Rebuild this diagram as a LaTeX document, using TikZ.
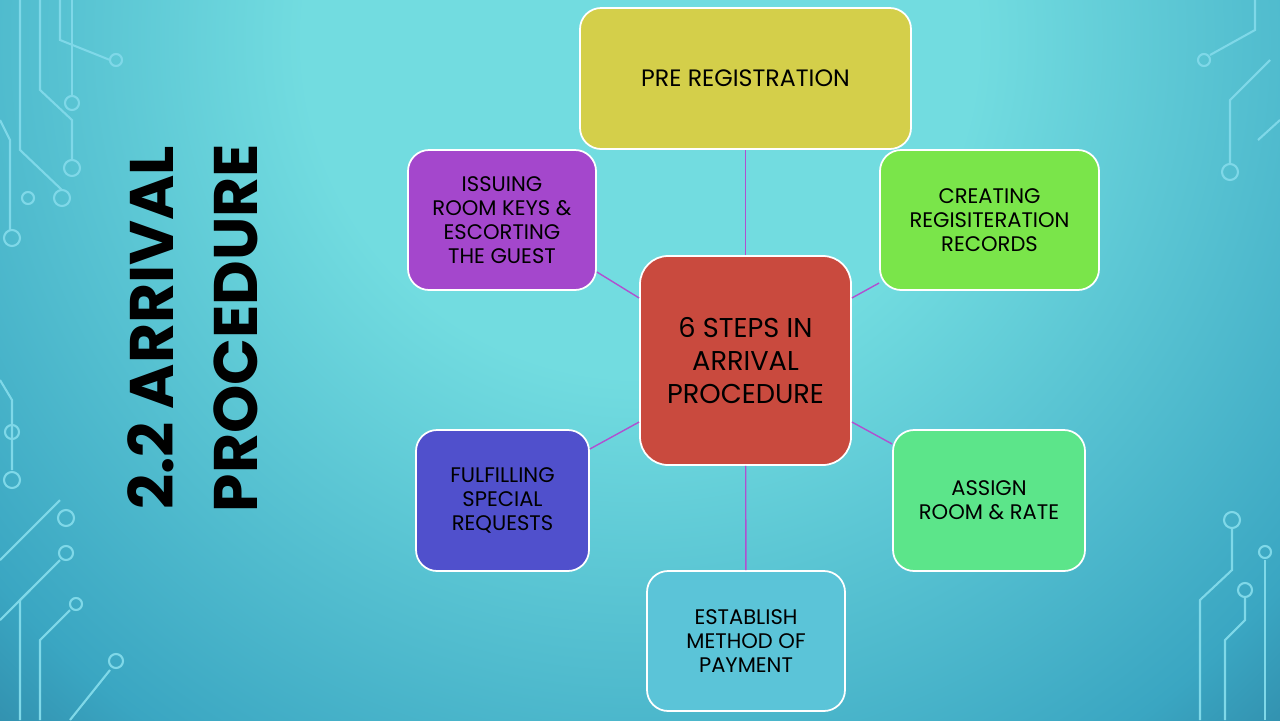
\documentclass[tikz,border=0pt]{standalone}
\usepackage{fontspec}
\setmainfont{Poppins}
\definecolor{bgin}{HTML}{72DCE0}
\definecolor{bgmid}{HTML}{3AA6C2}
\definecolor{bgout}{HTML}{0C2A52}
\pgfdeclareradialshading{bgsh}{\pgfpoint{0bp}{0bp}}{color(0bp)=(bgin); color(8bp)=(bgin); color(20bp)=(bgmid); color(34bp)=(bgout); color(50bp)=(bgout)}
\begin{document}
\begin{tikzpicture}[x=0.02cm,y=-0.02cm]
\definecolor{circ}{HTML}{7FD8E8}
\definecolor{conn}{HTML}{B050D0}
\tikzset{box/.style={draw=white,line width=1pt,rounded corners=12pt,align=center,font=\fontsize{12}{13.6}\selectfont,text=black,inner sep=0pt},
 wire/.style={circ,line width=1.2pt},
 pad/.style={circ,line width=1.2pt}}
\useasboundingbox (0,0) rectangle (1280,720);
\begin{scope}
\clip (-5,-5) rectangle (1285,725);
\fill[bgout] (-10,-10) rectangle (1290,730);
\shade[shading=bgsh] (640,40) circle (1050*0.02cm);
% circuit decorations left
\draw[wire] (40,0) -- (40,90) -- (72,120) -- (72,160);
\draw[pad] (72,168) circle (8);
\draw[wire] (60,0) -- (60,40) -- (110,60);
\draw[pad] (116,60) circle (6);
\draw[wire] (20,0) -- (20,150) -- (62,190);
\draw[pad] (62,198) circle (8);
\draw[wire] (0,120) -- (10,140) -- (10,230);
\draw[pad] (12,238) circle (8);
\draw[wire] (72,0)--(72,95); \draw[pad] (72,103) circle (7);
\draw[pad] (28,198) circle (6);
\draw[wire] (0,380) -- (12,400) -- (12,470); \draw[pad] (12,480) circle (8);
\draw[pad] (12,432) circle (7);
\draw[wire] (0,560) -- (60,500); \draw[pad] (66,518) circle (8);
\draw[wire] (20,720) -- (20,600) -- (60,560); \draw[pad] (66,553) circle (7);
\draw[wire] (40,720) -- (40,640) -- (70,610); \draw[pad] (76,604) circle (6);
\draw[wire] (70,720) -- (110,670); \draw[pad] (116,661) circle (7);
\draw[wire] (0,620) -- (30,590);
% right
\draw[wire] (1255,0) -- (1255,30) -- (1210,55); \draw[pad] (1204,60) circle (6);
\draw[wire] (1270,60) -- (1230,100) -- (1230,164); \draw[pad] (1230,172) circle (8);
\draw[wire] (1280,120) -- (1258,140);
\draw[wire] (1200,720) -- (1200,600) -- (1232,570) -- (1232,528); \draw[pad] (1232,520) circle (8);
\draw[wire] (1225,720) -- (1225,640) -- (1245,620) -- (1245,598); \draw[pad] (1245,590) circle (7);
\draw[wire] (1265,720) -- (1265,560); \draw[pad] (1265,552) circle (6);
\end{scope}
\node[rotate=90,align=center,font=\fontsize{35}{48}\selectfont\bfseries,text=black] (title) at (193,328) {2.2 ARRIVAL\\PROCEDURE};
\node[box,fill={rgb,255:red,212;green,207;blue,74},minimum width=331*0.02cm,minimum height=141*0.02cm,font=\fontsize{13.5}{15}\selectfont] (pre) at (745.5,78.5) {PRE REGISTRATION};
\node[box,fill={rgb,255:red,201;green,74;blue,62},minimum width=211*0.02cm,minimum height=209*0.02cm,font=\fontsize{15.5}{19}\selectfont,rounded corners=16pt] (c) at (745.5,360.5) {6 STEPS IN\\ARRIVAL\\PROCEDURE};
\node[box,fill={rgb,255:red,164;green,71;blue,204},minimum width=188*0.02cm,minimum height=140*0.02cm] (iss) at (502,220) {ISSUING\\ROOM KEYS \&\\ESCORTING\\THE GUEST};
\node[box,fill={rgb,255:red,122;green,229;blue,74},minimum width=219*0.02cm,minimum height=140*0.02cm] (cre) at (989.5,220) {CREATING\\REGISITERATION\\RECORDS};
\node[box,fill={rgb,255:red,80;green,80;blue,204},minimum width=173*0.02cm,minimum height=141*0.02cm] (ful) at (502.5,500.5) {FULFILLING\\SPECIAL\\REQUESTS};
\node[box,fill={rgb,255:red,92;green,229;blue,138},minimum width=192*0.02cm,minimum height=141*0.02cm] (asg) at (989,500.5) {ASSIGN\\ROOM \& RATE};
\node[box,fill={rgb,255:red,91;green,196;blue,216},minimum width=198*0.02cm,minimum height=140*0.02cm] (est) at (746,641) {ESTABLISH\\METHOD OF\\PAYMENT};
\draw[conn,line width=0.8pt] (c) -- (pre);
\draw[conn,line width=0.8pt] (c) -- (est);
\draw[conn,line width=0.8pt] (c.west |- 0,298) -- (iss.east |- 0,272);
\draw[conn,line width=0.8pt] (c.east |- 0,298) -- (cre.west |- 0,283);
\draw[conn,line width=0.8pt] (c.west |- 0,422) -- (ful.east |- 0,449);
\draw[conn,line width=0.8pt] (c.east |- 0,422) -- (asg.west |- 0,444);
\end{tikzpicture}
\end{document}
